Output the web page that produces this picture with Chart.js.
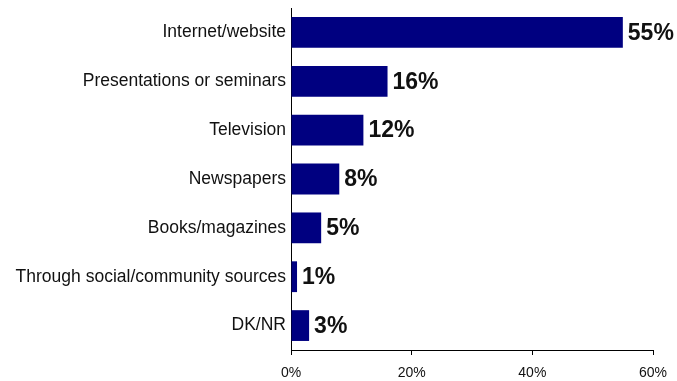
<!DOCTYPE html>
<html>
<head>
<meta charset="utf-8">
<script src="https://cdn.jsdelivr.net/npm/chart.js@4/dist/chart.umd.min.js"></script>
<style>
  html, body { margin: 0; padding: 0; background: #fff; }
  #wrap { width: 677px; height: 381px; }
</style>
</head>
<body>
<div id="wrap"><canvas id="sourcesChart"></canvas></div>
<script>
// Where people got their information (share of respondents)
const sources = [
  'Internet/website',
  'Presentations or seminars',
  'Television',
  'Newspapers',
  'Books/magazines',
  'Through social/community sources',
  'DK/NR'
];
const shares = [55, 16, 12, 8, 5, 1, 3];
const axisTicks = [0, 20, 40, 60];

const FONT = '"Liberation Sans", Arial, sans-serif';

// Bold percentage drawn just past the end of each bar
const valueLabels = {
  id: 'valueLabels',
  afterDatasetsDraw(chart) {
    const ctx = chart.ctx;
    const meta = chart.getDatasetMeta(0);
    ctx.save();
    ctx.font = 'bold 23px ' + FONT;
    ctx.fillStyle = '#111';
    ctx.textAlign = 'left';
    ctx.textBaseline = 'middle';
    meta.data.forEach((bar, i) => {
      ctx.fillText(shares[i] + '%', bar.x + 5, bar.y + 1);
    });
    ctx.restore();
  }
};

const ctx = document.getElementById('sourcesChart').getContext('2d');
const sourcesChart = new Chart(ctx, {
  type: 'bar',
  data: {
    labels: sources,
    datasets: [{
      data: shares,
      backgroundColor: '#000080',
      borderWidth: 0,
      categoryPercentage: 1,
      barPercentage: 0.63
    }]
  },
  options: {
    indexAxis: 'y',
    responsive: true,
    maintainAspectRatio: false,
    animation: false,
    layout: { padding: { top: 8, right: 24, bottom: 0, left: 0 } },
    plugins: {
      legend: { display: false },
      tooltip: { enabled: false }
    },
    scales: {
      x: {
        min: axisTicks[0],
        max: axisTicks[axisTicks.length - 1],
        afterBuildTicks: axis => { axis.ticks = axisTicks.map(v => ({ value: v })); },
        afterFit: axis => {
          axis.height = 31;
          axis.paddingLeft = 0;
          axis.paddingRight = 0;
        },
        grid: { drawOnChartArea: false, drawTicks: true, tickLength: 5, color: '#000' },
        border: { color: '#000', width: 1 },
        ticks: {
          padding: 10,
          color: '#111',
          font: { family: FONT, size: 14 },
          callback: v => v + '%'
        }
      },
      y: {
        afterFit: axis => {
          axis.width = 291;
          axis.paddingTop = 0;
          axis.paddingBottom = 0;
        },
        grid: { drawOnChartArea: false, drawTicks: false },
        border: { color: '#000', width: 1 },
        ticks: {
          padding: 5,
          color: '#111',
          font: { family: FONT, size: 17.5 }
        }
      }
    }
  },
  plugins: [valueLabels]
});
</script>
</body>
</html>
